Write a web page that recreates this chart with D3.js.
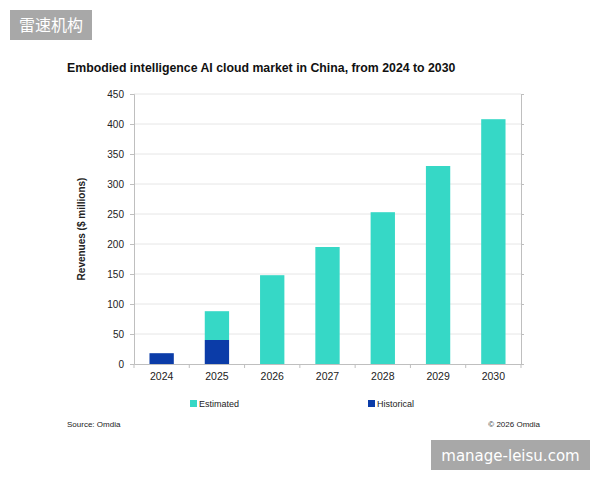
<!DOCTYPE html>
<html>
<head>
<meta charset="utf-8">
<script src="https://cdn.jsdelivr.net/npm/d3@7"></script>
<style>
  body { margin: 0; background: #fff; }
  svg { display: block; font-family: "Liberation Sans", Arial, sans-serif; }
</style>
</head>
<body>
<svg id="chart" width="600" height="480"></svg>
<script>
const years = ['2024', '2025', '2026', '2027', '2028', '2029', '2030'];
const historical = [18, 40, 0, 0, 0, 0, 0];
const estimated = [0, 48, 148, 195, 253, 330, 408];
const yTicks = [0, 50, 100, 150, 200, 250, 300, 350, 400, 450];

const cEst = '#36d8c6';
const cHist = '#0b3ca8';

const svg = d3.select('#chart');
const plotL = 134, plotR = 521, plotT = 94, plotB = 364;

// 比例尺
const x = d3.scaleBand().domain(years).range([plotL, plotR]).paddingInner(0.56).paddingOuter(0.28);
const y = d3.scaleLinear().domain([0, 450]).range([plotB, plotT]);

// 网格线
svg.append('g')
  .selectAll('line')
  .data(yTicks.slice(1))
  .enter()
  .append('line')
  .attr('x1', plotL).attr('x2', plotR)
  .attr('y1', d => y(d)).attr('y2', d => y(d))
  .attr('stroke', '#e6e6e6');

// 堆叠柱
const rows = years.map((yr, i) => ({ year: yr, historical: historical[i], estimated: estimated[i] }));
const stack = d3.stack().keys(['historical', 'estimated'])(rows);
const colors = { historical: cHist, estimated: cEst };
svg.append('g')
  .selectAll('g')
  .data(stack)
  .enter()
  .append('g')
  .attr('fill', d => colors[d.key])
  .selectAll('rect')
  .data(d => d.filter(p => p[1] > p[0]))
  .enter()
  .append('rect')
  .attr('x', d => x(d.data.year))
  .attr('width', x.bandwidth())
  .attr('y', d => y(d[1]))
  .attr('height', d => y(d[0]) - y(d[1]));

// y轴
const yAxis = svg.append('g')
  .attr('transform', `translate(${plotL},0)`)
  .call(d3.axisLeft(y).tickValues(yTicks).tickSize(4).tickPadding(6));
yAxis.selectAll('.domain').attr('stroke', '#bfbfbf');
yAxis.selectAll('.tick line').attr('stroke', '#bfbfbf');
yAxis.selectAll('.tick text').attr('fill', '#222').style('font-size', '10px');

// 右侧轴线
const rAxis = svg.append('g')
  .attr('transform', `translate(${plotR},0)`)
  .call(d3.axisRight(y).tickValues(yTicks).tickSize(3).tickFormat(''));
rAxis.selectAll('.domain').attr('stroke', '#bfbfbf');
rAxis.selectAll('.tick line').attr('stroke', '#bfbfbf');

// x轴
const xTickPos = d3.range(years.length + 1).map(i => plotL + i * (plotR - plotL) / years.length);
const xAxis = svg.append('g')
  .attr('transform', `translate(0,${plotB})`)
  .call(d3.axisBottom(x).tickSize(0).tickPadding(9));
xAxis.selectAll('.domain').attr('stroke', '#bfbfbf');
xAxis.selectAll('.tick text').attr('fill', '#222').style('font-size', '10.5px');
svg.append('g')
  .selectAll('line')
  .data(xTickPos)
  .enter()
  .append('line')
  .attr('x1', d => d).attr('x2', d => d)
  .attr('y1', plotB).attr('y2', plotB + 4)
  .attr('stroke', '#bfbfbf');

// 标题
svg.append('text')
  .attr('x', 67).attr('y', 72)
  .attr('font-weight', 'bold').attr('font-size', 12.3).attr('fill', '#111')
  .text('Embodied intelligence AI cloud market in China, from 2024 to 2030');

svg.append('text')
  .attr('transform', `translate(85,${(plotT + plotB) / 2}) rotate(-90)`)
  .attr('text-anchor', 'middle')
  .attr('font-weight', 'bold').attr('font-size', 10).attr('fill', '#222')
  .text('Revenues ($ millions)');

// 图例
const legend = [{ label: 'Estimated', color: cEst, x: 190 }, { label: 'Historical', color: cHist, x: 368 }];
const lg = svg.append('g').selectAll('g').data(legend).enter().append('g')
  .attr('transform', d => `translate(${d.x},400)`);
lg.append('rect').attr('width', 7).attr('height', 7).attr('fill', d => d.color);
lg.append('text').attr('x', 9).attr('y', 7).attr('font-size', 9).attr('fill', '#222').text(d => d.label);

svg.append('text').attr('x', 67).attr('y', 427).attr('font-size', 8).attr('fill', '#222').text('Source: Omdia');
svg.append('text').attr('x', 540).attr('y', 427).attr('text-anchor', 'end').attr('font-size', 8).attr('fill', '#222').text('© 2026 Omdia');

// 水印
svg.append('rect').attr('x', 10).attr('y', 10).attr('width', 82).attr('height', 30).attr('fill', '#a8a8a8');
svg.append('text').attr('x', 51).attr('y', 31).attr('text-anchor', 'middle')
  .attr('font-family', '"Noto Sans CJK SC", sans-serif').attr('font-size', 16).attr('fill', '#fff').text('雷速机构');
svg.append('rect').attr('x', 431).attr('y', 440).attr('width', 159).attr('height', 30).attr('fill', '#a8a8a8');
svg.append('text').attr('x', 510.5).attr('y', 461).attr('text-anchor', 'middle')
  .attr('font-family', '"DejaVu Sans", sans-serif').attr('font-size', 15).attr('fill', '#fff').text('manage-leisu.com');
</script>
</body>
</html>
